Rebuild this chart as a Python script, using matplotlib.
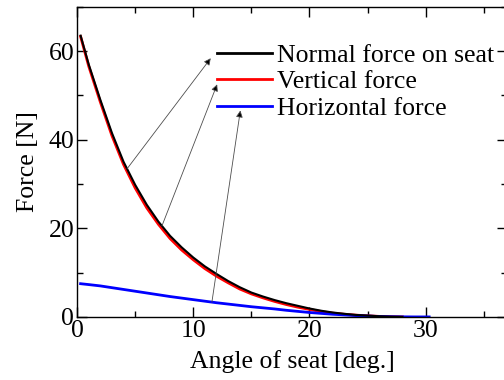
import numpy as np
import matplotlib.pyplot as plt
from matplotlib.ticker import MultipleLocator

plt.rcParams['font.family'] = ['Liberation Serif', 'DejaVu Serif']

# seat angle [deg.] and forces [N]
angle = [0.3, 1, 2, 3, 4, 5, 6, 7, 8, 9, 10, 11, 12, 13, 14, 15, 16, 17, 18, 19,
         20, 21, 22, 23, 24, 25, 26, 27, 28]
normal_force = [63.5, 57.0, 49.0, 41.5, 35.0, 29.8, 25.3, 21.5, 18.3, 15.7, 13.4,
                11.4, 9.7, 8.1, 6.7, 5.5, 4.6, 3.8, 3.1, 2.5, 1.9, 1.4, 1.0, 0.7,
                0.45, 0.3, 0.15, 0.05, 0.0]
vertical_force = [63.3, 56.6, 48.5, 40.9, 34.4, 29.1, 24.6, 20.9, 17.7, 15.1, 12.9,
                  10.9, 9.2, 7.7, 6.3, 5.2, 4.3, 3.5, 2.8, 2.2, 1.7, 1.2, 0.85, 0.6,
                  0.4, 0.25, 0.12, 0.04, 0.0]
angle_h = [0.3, 1, 2, 3, 4, 5, 6, 7, 8, 9, 10, 11, 12, 13, 14, 15, 16, 17, 18, 19,
           20, 21, 22, 23, 24, 25, 26, 27, 28, 29, 30.3]
horizontal_force = [7.5, 7.3, 7.0, 6.6, 6.2, 5.8, 5.4, 5.0, 4.6, 4.25, 3.9, 3.55,
                    3.2, 2.9, 2.6, 2.3, 2.05, 1.8, 1.5, 1.25, 1.0, 0.8, 0.6, 0.45,
                    0.3, 0.2, 0.1, 0.05, 0.02, 0.0, 0.0]

labels = ["Normal force on seat", "Vertical force", "Horizontal force"]
fs = 18.5

fig = plt.figure(figsize=(5.04, 3.8), dpi=100)
ax = fig.add_axes([0.153, 0.166, 0.853, 0.816])

l1, = ax.plot(angle, normal_force, color='black', lw=1.5, label=labels[0])
l2, = ax.plot(angle, vertical_force, color='red', lw=2.0, label=labels[1])
l3, = ax.plot(angle_h, horizontal_force, color='blue', lw=2.0, label=labels[2])
l1.set_zorder(2.1)

ax.set_xlim(0, 37)
ax.set_ylim(0, 70)
ax.xaxis.set_major_locator(MultipleLocator(10))
ax.xaxis.set_minor_locator(MultipleLocator(5))
ax.yaxis.set_major_locator(MultipleLocator(20))
ax.yaxis.set_minor_locator(MultipleLocator(10))
ax.tick_params(which='both', direction='in', top=True, right=True,
               labelsize=fs, width=1, pad=2)
ax.tick_params(which='major', length=7)
ax.tick_params(which='minor', length=4)
for sp in ax.spines.values():
    sp.set_linewidth(1)

ax.set_xlabel("Angle of seat [deg.]", fontsize=fs, labelpad=6)
ax.set_ylabel("Force [N]", fontsize=fs, labelpad=7)

leg = ax.legend(loc='upper left', bbox_to_anchor=(12.05, 61.7),
                bbox_transform=ax.transData, frameon=False, fontsize=fs,
                handlelength=2.14, handletextpad=0.2, labelspacing=0.15,
                borderpad=0, borderaxespad=0)
for h in leg.get_lines():
    h.set_linewidth(2.0)

# arrows from curves to legend entries
arrow_pts = [(4.3, normal_force, angle, (11.5, 58.4)),
             (7.3, normal_force, angle, (12.05, 52.5)),
             (11.6, horizontal_force, angle_h, (14.05, 46.6))]
for a, ys, xs, tip in arrow_pts:
    y0 = np.interp(a, xs, ys)
    ax.annotate("", xy=tip, xytext=(a, y0),
                arrowprops=dict(arrowstyle='-|>', color='0.45', lw=0.6,
                                mutation_scale=10, shrinkA=0, shrinkB=0,
                                fc='black', ec='0.3'))

plt.savefig("out.png", dpi=100)
